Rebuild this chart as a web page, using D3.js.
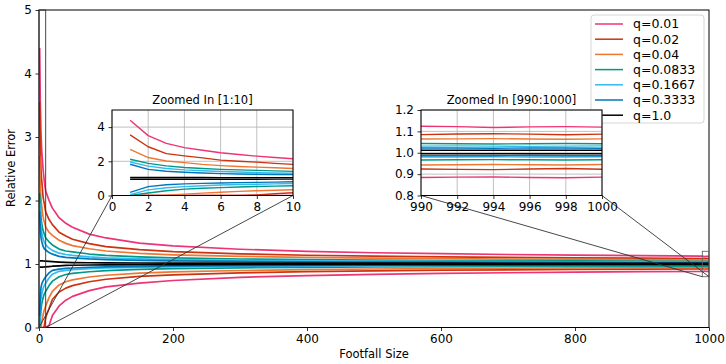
<!DOCTYPE html>
<html><head><meta charset="utf-8">
<script src="https://cdn.jsdelivr.net/npm/d3@7"></script>
<style>body{margin:0;background:#fff}svg{display:block}text{font-family:"DejaVu Sans",sans-serif;fill:#000}</style>
</head><body><svg id="c" width="726" height="364"></svg>
<script>
// ---------------- data ----------------
const footfall = [1,2,3,4,5,6,7,8,9,10,15,20,30,40,50,75,100,150,200,300,400,500,600,700,800,900,990,992,994,996,998,1000];
const qLabels = ["q=0.01","q=0.02","q=0.04","q=0.0833","q=0.1667","q=0.3333","q=1.0"];
const xTicksMain = [0,200,400,600,800,1000];
const yTicksMain = [0,1,2,3,4,5];
const xTicksZoom1 = [0,2,4,6,8,10];
const yTicksZoom1 = [0,2,4];
const xTicksZoom2 = [990,992,994,996,998,1000];
const yTicksZoom2 = [0.8,0.9,1.0,1.1,1.2];

const upper_q001 = [4.4,3.5,3.05,2.8,2.65,2.5,2.4,2.3,2.22,2.15,2.0,1.88,1.73,1.64,1.58,1.47,1.41,1.33,1.285,1.232,1.2,1.177,1.162,1.15,1.141,1.133,1.124,1.122,1.118,1.121,1.122,1.12];
const lower_q001 = [0,0,0,0,0,0,0,0,0,0,0.03,0.19,0.34,0.43,0.49,0.58,0.64,0.7,0.74,0.79,0.818,0.838,0.852,0.862,0.871,0.879,0.884,0.886,0.887,0.884,0.883,0.886];
const upper_q002 = [3.55,2.85,2.45,2.32,2.2,2.07,2.0,1.95,1.88,1.82,1.7,1.62,1.5,1.44,1.39,1.32,1.275,1.225,1.195,1.16,1.138,1.123,1.112,1.104,1.097,1.092,1.085,1.088,1.089,1.087,1.084,1.087];
const lower_q002 = [0,0,0,0,0,0,0,0.03,0.1,0.16,0.3,0.44,0.56,0.62,0.66,0.72,0.76,0.804,0.83,0.861,0.88,0.892,0.902,0.909,0.915,0.92,0.924,0.922,0.921,0.924,0.926,0.923];
const upper_q004 = [2.7,2.22,2.02,1.92,1.82,1.75,1.7,1.66,1.62,1.58,1.5,1.45,1.375,1.325,1.29,1.24,1.205,1.168,1.145,1.119,1.103,1.092,1.084,1.078,1.073,1.069,1.064,1.065,1.066,1.064,1.063,1.065];
const lower_q004 = [0,0,0.02,0.08,0.14,0.19,0.24,0.28,0.31,0.34,0.47,0.57,0.67,0.72,0.75,0.795,0.823,0.855,0.875,0.898,0.911,0.921,0.928,0.933,0.937,0.941,0.943,0.944,0.945,0.944,0.943,0.945];
const upper_q0833 = [2.12,1.88,1.73,1.64,1.58,1.53,1.5,1.47,1.44,1.41,1.35,1.3,1.235,1.205,1.19,1.157,1.136,1.111,1.096,1.079,1.068,1.061,1.055,1.051,1.048,1.045,1.043,1.042,1.041,1.042,1.043,1.042];
const lower_q0833 = [0,0.15,0.28,0.37,0.42,0.46,0.5,0.53,0.55,0.57,0.66,0.73,0.8,0.835,0.852,0.878,0.895,0.915,0.926,0.94,0.948,0.953,0.957,0.961,0.963,0.965,0.966,0.967,0.968,0.967,0.966,0.967];
const upper_q1667 = [1.96,1.72,1.58,1.5,1.45,1.4,1.37,1.34,1.32,1.3,1.25,1.215,1.17,1.15,1.136,1.112,1.097,1.08,1.069,1.057,1.049,1.044,1.04,1.037,1.035,1.033,1.031,1.032,1.031,1.03,1.031,1.032];
const lower_q1667 = [0.05,0.33,0.45,0.52,0.57,0.61,0.64,0.66,0.68,0.7,0.78,0.84,0.885,0.9,0.91,0.927,0.937,0.948,0.955,0.963,0.968,0.972,0.974,0.976,0.978,0.979,0.98,0.98,0.981,0.98,0.98,0.981];
const upper_q3333 = [1.83,1.53,1.42,1.36,1.32,1.28,1.26,1.24,1.23,1.22,1.18,1.155,1.12,1.105,1.098,1.08,1.07,1.057,1.049,1.04,1.035,1.031,1.028,1.026,1.025,1.023,1.022,1.022,1.021,1.022,1.022,1.021];
const lower_q3333 = [0.18,0.52,0.63,0.68,0.71,0.73,0.75,0.77,0.78,0.8,0.86,0.9,0.92,0.93,0.937,0.949,0.956,0.964,0.969,0.974,0.978,0.98,0.982,0.983,0.984,0.985,0.986,0.986,0.986,0.987,0.986,0.986];
const upper_q1 = [1.05,1.05,1.05,1.05,1.05,1.048,1.047,1.046,1.045,1.044,1.04,1.036,1.03,1.026,1.023,1.02,1.018,1.016,1.015,1.014,1.013,1.013,1.013,1.012,1.012,1.012,1.012,1.012,1.012,1.012,1.012,1.012];
const lower_q1 = [0.95,0.95,0.95,0.95,0.951,0.952,0.953,0.954,0.955,0.956,0.96,0.965,0.972,0.977,0.98,0.984,0.987,0.99,0.991,0.993,0.994,0.994,0.995,0.995,0.995,0.995,0.995,0.995,0.995,0.995,0.995,0.995];

const colors = ["#EE3377","#CC3311","#EE7733","#009988","#33BBEE","#0077BB","#000000"];
const uppers = [upper_q001,upper_q002,upper_q004,upper_q0833,upper_q1667,upper_q3333,upper_q1];
const lowers = [lower_q001,lower_q002,lower_q004,lower_q0833,lower_q1667,lower_q3333,lower_q1];
const series = qLabels.map((l,i)=>({label:l,color:colors[i],up:uppers[i],lo:lowers[i]}));

// ---------------- drawing ----------------
const svg = d3.select("#c");
const FS = 12;

function panel(id, x, y, xt, yt, fmtX, fmtY, grid, lw){
  const [x0,x1] = x.range(), [y0,y1] = y.range();
  const g = svg.append("g");
  g.append("rect").attr("x",x0).attr("y",y1).attr("width",x1-x0).attr("height",y0-y1).attr("fill","#fff");
  g.append("clipPath").attr("id",id).append("rect").attr("x",x0).attr("y",y1).attr("width",x1-x0).attr("height",y0-y1);
  if(grid){
    const gg = g.append("g").attr("stroke","#b0b0b0").attr("stroke-width",0.8);
    xt.forEach(t=>gg.append("line").attr("x1",x(t)).attr("x2",x(t)).attr("y1",y0).attr("y2",y1));
    yt.forEach(t=>gg.append("line").attr("y1",y(t)).attr("y2",y(t)).attr("x1",x0).attr("x2",x1));
  }
  const lines = g.append("g").attr("clip-path",`url(#${id})`);
  const line = d3.line().x((d,i)=>x(footfall[i])).y(d=>y(d));
  series.forEach(s=>{
    [s.up,s.lo].forEach(arr=>{
      lines.append("path").attr("d",line(arr)).attr("fill","none").attr("stroke",s.color).attr("stroke-width",lw).attr("stroke-linejoin","round");
    });
  });
  const ax = g.append("g").attr("transform",`translate(0,${y0})`).call(d3.axisBottom(x).tickValues(xt).tickFormat(fmtX).tickSize(3.5).tickPadding(3.5).tickSizeOuter(0));
  const ay = g.append("g").attr("transform",`translate(${x0},0)`).call(d3.axisLeft(y).tickValues(yt).tickFormat(fmtY).tickSize(3.5).tickPadding(3.5).tickSizeOuter(0));
  [ax,ay].forEach(a=>{a.select(".domain").remove(); a.selectAll("text").attr("font-size",FS).attr("font-family","DejaVu Sans").attr("fill","#000"); a.selectAll("line").attr("stroke","#000").attr("stroke-width",0.8);});
  g.append("rect").attr("x",x0).attr("y",y1).attr("width",x1-x0).attr("height",y0-y1).attr("fill","none").attr("stroke","#000").attr("stroke-width",1);
  return g;
}

// main axes
const mx = d3.scaleLinear().domain([0,1000]).range([39,709]);
const my = d3.scaleLinear().domain([0,5]).range([327.5,10]);
panel("clipMain", mx, my, xTicksMain, yTicksMain, d3.format("d"), d3.format("d"), false, 1.7);
svg.append("text").attr("x",374).attr("y",358).attr("text-anchor","middle").attr("font-size",11.5).text("Footfall Size");
svg.append("text").attr("transform","translate(15,168) rotate(-90)").attr("text-anchor","middle").attr("font-size",11.5).text("Relative Error");

// legend
const lg = svg.append("g");
lg.append("rect").attr("x",591).attr("y",15).attr("width",113).attr("height",108).attr("rx",3).attr("fill","#fff").attr("fill-opacity",0.8).attr("stroke","#cccccc").attr("stroke-width",0.8);
series.forEach((s,i)=>{
  const yy = 24 + i*15.2;
  lg.append("line").attr("x1",595).attr("x2",623).attr("y1",yy).attr("y2",yy).attr("stroke",s.color).attr("stroke-width",1.5);
  lg.append("text").attr("x",633).attr("y",yy).attr("dy","0.35em").attr("font-size",12.5).text(s.label);
});

// zoom indicator rectangles and connectors
const ink = svg.append("g").attr("fill","none").attr("stroke","#333").attr("stroke-width",0.9);
const z1x = d3.scaleLinear().domain([0,10]).range([112,293]);
const z1y = d3.scaleLinear().domain([0,5]).range([195.5,110]);
const z2x = d3.scaleLinear().domain([990,1000]).range([421,602]);
const z2y = d3.scaleLinear().domain([0.8,1.2]).range([195.5,110]);
ink.append("rect").attr("x",mx(0)).attr("y",my(5)).attr("width",mx(10)-mx(0)).attr("height",my(0)-my(5));
ink.append("rect").attr("x",mx(990)).attr("y",my(1.2)).attr("width",mx(1000)-mx(990)).attr("height",my(0.8)-my(1.2)).attr("stroke","#666");
ink.append("line").attr("x1",mx(0)).attr("y1",my(0)).attr("x2",z1x(0)).attr("y2",z1y(0));
ink.append("line").attr("x1",mx(10)).attr("y1",my(0)).attr("x2",z1x(10)).attr("y2",z1y(0));
ink.append("line").attr("x1",mx(990)).attr("y1",my(0.8)).attr("x2",z2x(990)).attr("y2",z2y(0.8));
ink.append("line").attr("x1",mx(1000)).attr("y1",my(0.8)).attr("x2",z2x(1000)).attr("y2",z2y(0.8));

// insets
panel("clipZ1", z1x, z1y, xTicksZoom1, yTicksZoom1, d3.format("d"), d3.format("d"), true, 1.4);
svg.append("text").attr("x",202.5).attr("y",104).attr("text-anchor","middle").attr("font-size",11.5).text("Zoomed In [1:10]");
panel("clipZ2", z2x, z2y, xTicksZoom2, yTicksZoom2, d3.format("d"), d3.format(".1f"), true, 1.4);
svg.append("text").attr("x",511.5).attr("y",104).attr("text-anchor","middle").attr("font-size",11.5).text("Zoomed In [990:1000]");
</script></body></html>
